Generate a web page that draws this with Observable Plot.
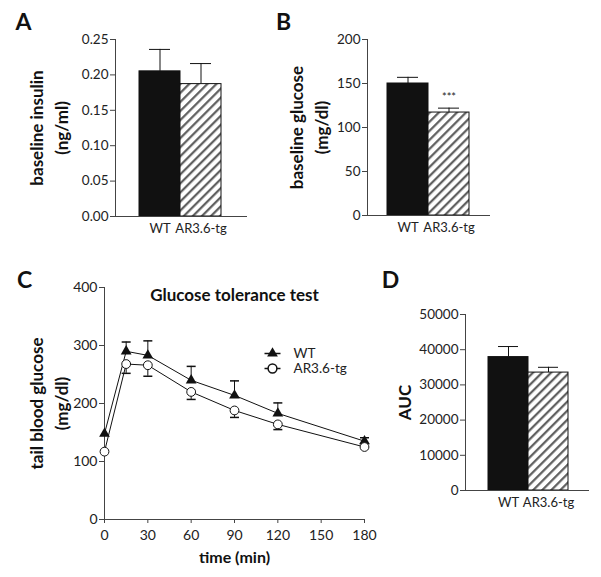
<!DOCTYPE html>
<html>
<head>
<meta charset="utf-8">
<script src="https://cdn.jsdelivr.net/npm/d3@7"></script>
<script src="https://cdn.jsdelivr.net/npm/@observablehq/plot@0.6"></script>
<style>
  body { margin: 0; background: #fff; }
  #fig { position: relative; width: 601px; height: 577px; font-family: Lato, sans-serif; color: #222; }
  .panel { position: absolute; }
</style>
</head>
<body>
<svg width="0" height="0" style="position:absolute">
  <defs>
    <pattern id="hatch" patternUnits="userSpaceOnUse" width="6.4" height="6.4" patternTransform="rotate(45)">
      <rect width="6.4" height="6.4" fill="#fff"></rect>
      <line x1="1.2" y1="0" x2="1.2" y2="6.4" stroke="#555" stroke-width="2.1"></line>
    </pattern>
  </defs>
</svg>
<div id="fig"></div>
<script>
// ---------------- data ----------------
const groups = ["WT", "AR3.6-tg"];
const groupFill = ["#111", "url(#hatch)"];

const insulinMean = [0.205, 0.187];
const insulinSem = [0.031, 0.029];
const insulinTicks = [0, 0.05, 0.10, 0.15, 0.20, 0.25];
const insulinLabel = "baseline insulin\n(ng/ml)";

const glucoseMean = [150, 117];
const glucoseSem = [7, 5];
const glucoseSig = ["", "***"];
const glucoseTicks = [0, 50, 100, 150, 200];
const glucoseLabel = "baseline glucose\n(mg/dl)";

const aucMean = [37900, 33500];
const aucSem = [3000, 1500];
const aucTicks = [0, 10000, 20000, 30000, 40000, 50000];
const aucLabel = "AUC";

const gttTime = [0, 15, 30, 60, 90, 120, 180];
const gttWT = [148, 290, 283, 240, 214, 183, 135];
const gttWTSem = [0, 16, 25, 24, 25, 18, 6];
const gttTG = [117, 268, 266, 220, 188, 164, 125];
const gttTGSem = [0, 16, 19, 13, 12, 9, 0];
const gttXTicks = [0, 30, 60, 90, 120, 150, 180];
const gttYTicks = [0, 100, 200, 300, 400];
const gttTitle = "Glucose tolerance test";
const gttXLabel = "time (min)";
const gttYLabel = "tail blood glucose\n(mg/dl)";

const panelLetters = ["A", "B", "C", "D"];

// ---------------- helpers ----------------
const FONT = "Lato, 'Open Sans', sans-serif";
const INK = "#111";
const AXIS = "#444";
const baseStyle = {fontFamily: FONT, fontSize: "13px", color: "#222", background: "transparent", overflow: "visible"};
const centered = {textAnchor: "middle", lineAnchor: "middle"};

function place(el, left, top) {
  const d = document.createElement("div");
  d.className = "panel";
  d.style.left = left + "px";
  d.style.top = top + "px";
  d.appendChild(el);
  document.getElementById("fig").appendChild(d);
}

function barPanel(o) {
  const data = groups.map((g, i) => ({group: g, value: o.mean[i], err: o.sem[i], sig: o.sig ? o.sig[i] : ""}));
  const marks = [
    Plot.ruleX(data, {x: "group", y1: "value", y2: d => d.value + d.err, stroke: INK, strokeWidth: 1}),
    Plot.tickY(data, {x: "group", y: d => d.value + d.err, insetLeft: 10, insetRight: 10, stroke: INK, strokeWidth: 1}),
    Plot.barY(data, {x: "group", y: "value", fill: "group", stroke: INK, strokeWidth: 1}),
    Plot.ruleY([o.ticks[0]], {stroke: AXIS, strokeWidth: 1}),
    Plot.frame({anchor: "left", stroke: AXIS, strokeWidth: 1}),
    Plot.axisY({ticks: o.ticks, tickFormat: o.fmt, tickSize: 5, tickPadding: 2, fontSize: 13.5, stroke: AXIS, label: null}),
    Plot.axisX({tickSize: 0, tickPadding: 7, fontSize: 13, label: null}),
    Plot.text([o.label], {frameAnchor: "left", rotate: -90, dx: o.labelDx, fontSize: 17, fontWeight: "bold", lineHeight: 1.5, fill: "#111", ...centered}),
    Plot.text([o.letter], {frameAnchor: "top-left", dx: o.letterDx, dy: o.letterDy, fontSize: 23, fontWeight: "bold", fill: "#111", ...centered})
  ];
  if (o.sig) {
    marks.push(Plot.text(data, {x: "group", y: d => d.value + d.err, text: "sig", dy: -11, fontSize: 11, fill: "#222"}));
  }
  return Plot.plot({
    width: o.width, height: o.height,
    marginLeft: o.ml, marginRight: o.mr, marginTop: o.mt, marginBottom: o.mb,
    style: baseStyle,
    x: {domain: groups, range: o.xRange, padding: 0, label: null},
    y: {domain: [o.ticks[0], o.ticks[o.ticks.length - 1]], label: null},
    color: {type: "ordinal", domain: groups, range: groupFill},
    marks
  });
}

// ---------------- Panel A ----------------
place(barPanel({
  mean: insulinMean, sem: insulinSem, ticks: insulinTicks, fmt: d3.format(".2f"),
  label: insulinLabel, letter: panelLetters[0],
  width: 300, height: 250, ml: 115, mr: 53, mt: 39, mb: 34, xRange: [138, 221],
  labelDx: -68, letterDx: -92, letterDy: -17
}), 0, 0);

// ---------------- Panel B ----------------
place(barPanel({
  mean: glucoseMean, sem: glucoseSem, sig: glucoseSig, ticks: glucoseTicks, fmt: d3.format("d"),
  label: glucoseLabel, letter: panelLetters[1],
  width: 341, height: 250, ml: 107, mr: 111, mt: 39, mb: 35, xRange: [127, 209],
  labelDx: -60, letterDx: -84, letterDy: -17
}), 260, 0);

// ---------------- Panel D ----------------
place(barPanel({
  mean: aucMean, sem: aucSem, ticks: aucTicks, fmt: d3.format("d"),
  label: aucLabel, letter: panelLetters[3],
  width: 301, height: 317, ml: 165, mr: 12, mt: 54, mb: 87, xRange: [187, 268],
  labelDx: -63, letterDx: -75, letterDy: -34
}), 300, 260);

// ---------------- Panel C ----------------
const wt = gttTime.map((t, i) => ({t, v: gttWT[i], e: gttWTSem[i]}));
const tg = gttTime.map((t, i) => ({t, v: gttTG[i], e: gttTGSem[i]}));
const capSymbol = {draw(ctx) { ctx.moveTo(-4.5, 0); ctx.lineTo(4.5, 0); }};
const legendLine = {draw(ctx) { ctx.moveTo(-8, 0); ctx.lineTo(8, 0); }};

const chartC = Plot.plot({
  width: 400, height: 317,
  marginLeft: 104, marginRight: 36, marginTop: 27, marginBottom: 58,
  style: baseStyle,
  x: {domain: [0, 180], label: null},
  y: {domain: [0, 400], label: null},
  marks: [
    Plot.ruleY([0], {stroke: AXIS}),
    Plot.ruleX([0], {stroke: AXIS}),
    Plot.axisX({ticks: gttXTicks, tickSize: 4, tickPadding: 7, fontSize: 14, stroke: AXIS, label: null}),
    Plot.axisY({ticks: gttYTicks, tickSize: 5, tickPadding: 2, fontSize: 14, stroke: AXIS, label: null}),
    // error bars (WT up, AR3.6-tg down)
    Plot.ruleX(wt.filter(d => d.e > 0), {x: "t", y1: "v", y2: d => d.v + d.e, stroke: INK}),
    Plot.dot(wt.filter(d => d.e > 0), {x: "t", y: d => d.v + d.e, symbol: capSymbol, fill: "none", stroke: INK}),
    Plot.ruleX(tg.filter(d => d.e > 0), {x: "t", y1: "v", y2: d => d.v - d.e, stroke: INK}),
    Plot.dot(tg.filter(d => d.e > 0), {x: "t", y: d => d.v - d.e, symbol: capSymbol, fill: "none", stroke: INK}),
    // lines
    Plot.line(wt, {x: "t", y: "v", stroke: INK, strokeWidth: 1}),
    Plot.line(tg, {x: "t", y: "v", stroke: INK, strokeWidth: 1}),
    // markers
    Plot.dot(wt, {x: "t", y: "v", symbol: "triangle", r: 4, fill: INK}),
    Plot.dot(tg, {x: "t", y: "v", symbol: "circle", r: 4.4, fill: "white", stroke: INK, strokeWidth: 1}),
    // legend
    Plot.dot([groups[0]], {frameAnchor: "top-left", dx: 168, dy: 66, symbol: legendLine, fill: "none", stroke: INK}),
    Plot.dot([groups[0]], {frameAnchor: "top-left", dx: 168, dy: 66, symbol: "triangle", r: 4, fill: INK}),
    Plot.text([groups[0]], {frameAnchor: "top-left", dx: 189, dy: 66, textAnchor: "start", lineAnchor: "middle", fontSize: 13.5, fill: "#222"}),
    Plot.dot([groups[1]], {frameAnchor: "top-left", dx: 168, dy: 81, symbol: legendLine, fill: "none", stroke: INK}),
    Plot.dot([groups[1]], {frameAnchor: "top-left", dx: 168, dy: 81, symbol: "circle", r: 4.4, fill: "white", stroke: INK}),
    Plot.text([groups[1]], {frameAnchor: "top-left", dx: 189, dy: 81, textAnchor: "start", lineAnchor: "middle", fontSize: 13.5, fill: "#222"}),
    // texts
    Plot.text([gttTitle], {frameAnchor: "top", dy: 8, fontSize: 17, fontWeight: "bold", fill: "#111", ...centered}),
    Plot.text([gttXLabel], {frameAnchor: "bottom", dy: 38, fontSize: 16, fontWeight: "bold", fill: "#111", ...centered}),
    Plot.text([gttYLabel], {frameAnchor: "left", rotate: -90, dx: -57, fontSize: 17, fontWeight: "bold", lineHeight: 1.45, fill: "#111", ...centered}),
    Plot.text([panelLetters[2]], {frameAnchor: "top-left", dx: -80, dy: -7, fontSize: 23, fontWeight: "bold", fill: "#111", ...centered})
  ]
});
place(chartC, 0, 260);
</script>
</body>
</html>
